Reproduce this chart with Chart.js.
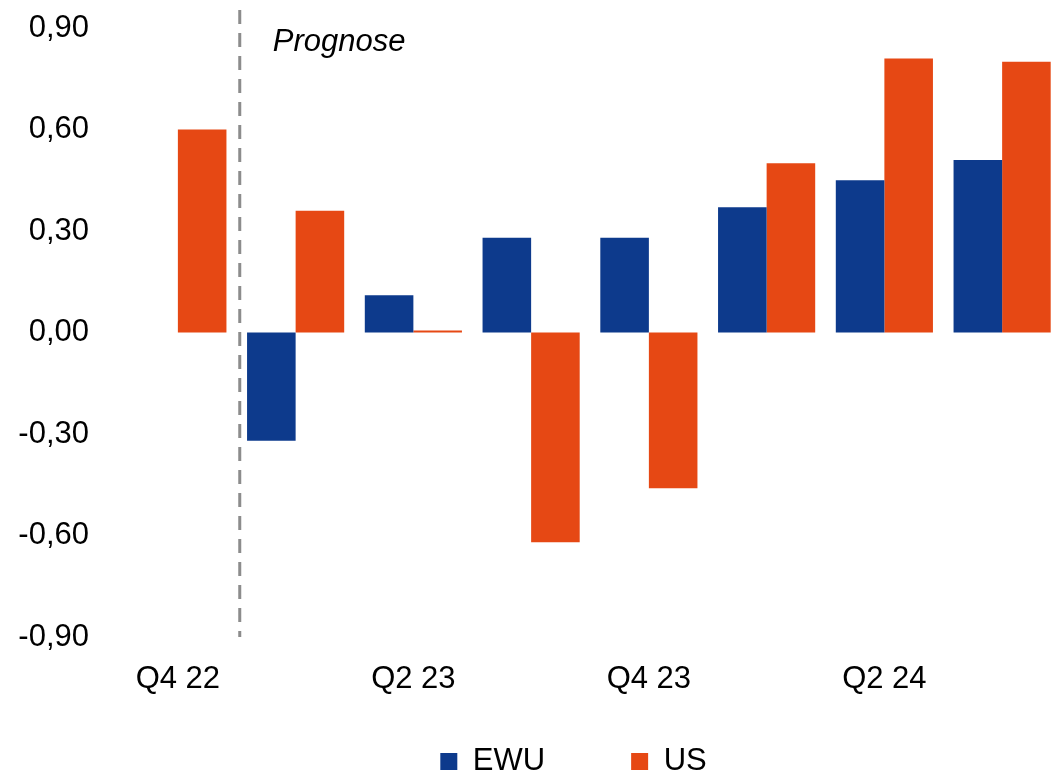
<!DOCTYPE html>
<html>
<head>
<meta charset="utf-8">
<script src="https://cdn.jsdelivr.net/npm/chart.js@4.4.0/dist/chart.umd.min.js"></script>
<style>
  body { margin: 0; overflow: hidden; background: #fff; }
  #wrap { width: 1061px; height: 776px; }
</style>
</head>
<body>
<div id="wrap"><canvas id="chart" width="1061" height="776"></canvas></div>
<script>
const quarters = ["Q4 22", "Q1 23", "Q2 23", "Q3 23", "Q4 23", "Q1 24", "Q2 24", "Q3 24"];
const ewu = [null, -0.32, 0.11, 0.28, 0.28, 0.37, 0.45, 0.51];
const us = [0.60, 0.36, 0.006, -0.62, -0.46, 0.50, 0.81, 0.80];
const yTicks = [-0.9, -0.6, -0.3, 0, 0.3, 0.6, 0.9];

const FONT = "'Liberation Sans', Arial, sans-serif";

// dashed divider between actual and forecast, plus the "Prognose" label
const forecastLine = {
  id: "forecastLine",
  afterDatasetsDraw(chart) {
    const { ctx, chartArea, scales } = chart;
    const x = (scales.x.getPixelForValue(0) + scales.x.getPixelForValue(1)) / 2 + 3;
    ctx.save();
    ctx.strokeStyle = "#8c8c8c";
    ctx.lineWidth = 3;
    ctx.setLineDash([14, 9]);
    ctx.beginPath();
    ctx.moveTo(x, 10);
    ctx.lineTo(x, chartArea.bottom);
    ctx.stroke();
    ctx.setLineDash([]);
    ctx.fillStyle = "#000";
    ctx.font = "italic 31px " + FONT;
    ctx.textBaseline = "middle";
    ctx.fillText("Prognose", x + 33, 42);
    ctx.restore();
  },
};

// move the legend row down/right to where it sits in the original
const legendShift = {
  id: "legendShift",
  afterLayout(chart) {
    const lg = chart.legend;
    lg.top = 660;
    lg.bottom = chart.height;
    lg.height = lg.bottom - lg.top;
    lg.left += 43;
    lg.right += 43;
  },
};

new Chart(document.getElementById("chart"), {
  type: "bar",
  data: {
    labels: quarters,
    datasets: [
      { label: "EWU", data: ewu, backgroundColor: "#0d3a8c" },
      { label: "US", data: us, backgroundColor: "#e64814" },
    ],
  },
  options: {
    responsive: false,
    animation: false,
    categoryPercentage: 0.825,
    barPercentage: 1,
    layout: { padding: { top: 28, bottom: 0, left: 0, right: 0 } },
    scales: {
      x: {
        grid: { display: false },
        border: { display: false },
        afterFit: (s) => { s.height = 79; s.paddingLeft = 0; s.paddingRight = 0; },
        ticks: {
          autoSkip: false,
          maxRotation: 0,
          padding: 16,
          color: "#000",
          font: { family: FONT, size: 31 },
          callback: (v, i) => (i % 2 === 0 ? quarters[i] : ""),
        },
      },
      y: {
        min: -0.9,
        max: 0.9,
        grid: { display: false },
        border: { display: false },
        afterFit: (s) => { s.width = 119; s.paddingTop = 0; s.paddingBottom = 0; },
        afterBuildTicks: (s) => { s.ticks = yTicks.map((v) => ({ value: v })); },
        ticks: {
          padding: 22,
          color: "#000",
          font: { family: FONT, size: 31 },
          callback: (v) => v.toFixed(2).replace(".", ","),
        },
      },
    },
    plugins: {
      tooltip: { enabled: false },
      legend: {
        position: "bottom",
        maxHeight: 60,
        labels: {
          boxWidth: 17,
          boxHeight: 17,
          padding: 86,
          color: "#000",
          font: { family: FONT, size: 31 },
        },
      },
    },
  },
  plugins: [forecastLine, legendShift],
});
</script>
</body>
</html>
